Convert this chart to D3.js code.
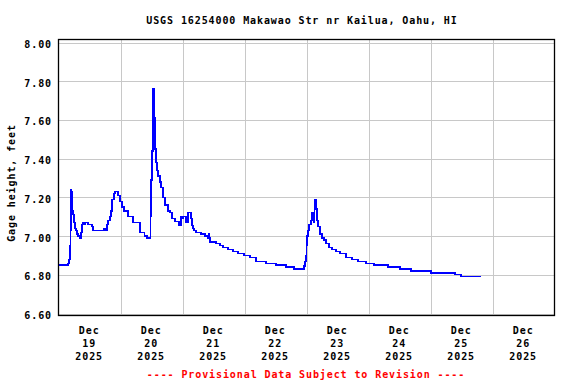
<!DOCTYPE html>
<html>
<head>
<meta charset="utf-8">
<script src="https://cdn.jsdelivr.net/npm/d3@7"></script>
<style>
  body { margin: 0; background: #fff; }
  text { font-family: "DejaVu Sans Mono", monospace; font-weight: bold; font-size: 10px; letter-spacing: 0.9px; }
</style>
</head>
<body>
<script>
// gage height, hours after 2025-12-19 00:00
var hours = [0, 3.2, 3.6, 4.0, 4.4, 4.6, 4.8, 5.0, 5.1, 5.3, 5.5, 5.9, 6.3, 6.7, 7.1, 7.5, 8.1, 8.6, 9.0, 9.4,
  9.8, 10.2, 11.0, 11.3, 12.1, 12.9, 13.3, 17.1, 17.5, 18.3, 18.7, 19.1, 19.9, 20.2, 20.6, 21.4, 21.8, 22.6, 23.0, 23.7,
  24.5, 25.3, 26.8, 28.8, 31.5, 33.1, 34.2, 35.3, 35.5, 35.7, 36.1, 36.5, 36.9, 37.3, 37.7, 38.1, 38.4, 39.2, 39.6, 40.4,
  41.1, 42.3, 43.1, 43.9, 45.0, 46.6, 47.3, 47.7, 48.1, 48.5, 49.3, 49.7, 50.0, 50.8, 51.2, 51.6, 52.0, 52.4, 53.2, 55.1,
  56.6, 57.8, 58.0, 58.2, 58.6, 60.9, 62.4, 63.6, 65.5, 67.5, 69.4, 71.7, 74.1, 76.4, 80.2, 84.1, 88.0, 91.1, 94.2, 94.9,
  95.3, 95.7, 95.9, 96.1, 96.5, 96.9, 97.7, 98.1, 98.4, 98.8, 99.0, 99.3, 99.6, 100.0, 100.4, 101.2, 101.9, 102.7, 103.5, 104.6,
  105.8, 107.3, 108.9, 111.2, 113.5, 115.9, 119.0, 122.1, 127.5, 132.1, 136.4, 144.1, 153.4, 155.7, 163.5];
var gage = [6.85, 6.85, 6.86, 6.88, 6.95, 7.03, 7.24, 7.23, 7.19, 7.13, 7.11, 7.07, 7.04, 7.03, 7.01, 7.00, 6.99, 7.02, 7.06, 7.07,
  7.06, 7.07, 7.07, 7.06, 7.06, 7.05, 7.03, 7.03, 7.04, 7.03, 7.06, 7.08, 7.10, 7.13, 7.19, 7.22, 7.23, 7.23, 7.21, 7.18,
  7.15, 7.13, 7.10, 7.07, 7.02, 7.00, 6.99, 6.99, 7.10, 7.29, 7.44, 7.76, 7.61, 7.45, 7.38, 7.34, 7.31, 7.28, 7.25, 7.20,
  7.16, 7.13, 7.12, 7.09, 7.075, 7.055, 7.10, 7.09, 7.10, 7.10, 7.07, 7.07, 7.12, 7.12, 7.09, 7.055, 7.04, 7.03, 7.02, 7.01,
  7.00, 6.99, 7.01, 6.99, 6.97, 6.96, 6.95, 6.94, 6.93, 6.92, 6.91, 6.90, 6.89, 6.87, 6.86, 6.85, 6.84, 6.83, 6.83, 6.845,
  6.87, 6.90, 6.95, 7.00, 7.03, 7.06, 7.08, 7.12, 7.12, 7.07, 7.19, 7.19, 7.14, 7.08, 7.05, 7.01, 6.99, 6.98, 6.96, 6.94,
  6.93, 6.92, 6.91, 6.89, 6.88, 6.87, 6.86, 6.85, 6.84, 6.83, 6.82, 6.81, 6.80, 6.79, 6.79];
var yTicks = [6.6, 6.8, 7.0, 7.2, 7.4, 7.6, 7.8, 8.0];
var dayLabels = ['19', '20', '21', '22', '23', '24', '25', '26'];

var start = new Date(2025, 11, 19);
var end = new Date(2025, 11, 27);
var width = 576, height = 384;

var svg = d3.select('body').append('svg')
  .attr('width', width)
  .attr('height', height);

var x = d3.scaleTime().domain([start, end]).range([58.7, 554.7]);
var y = d3.scaleLinear().domain([6.6, 8.0]).range([313.5, 42.5]);

var data = hours.map(function(h, i) {
  return { t: new Date(start.getTime() + h * 3600000), v: gage[i] };
});

// grid
svg.append('g')
  .selectAll('line.h')
  .data(yTicks)
  .enter().append('line')
    .attr('x1', 59).attr('x2', 554)
    .attr('y1', function(d) { return Math.round(y(d)) + 0.5; })
    .attr('y2', function(d) { return Math.round(y(d)) + 0.5; })
    .attr('stroke', '#c8c8c8');

svg.append('g')
  .selectAll('line.v')
  .data(d3.timeDay.range(d3.timeDay.offset(start, 1), end))
  .enter().append('line')
    .attr('x1', function(d) { return Math.round(x(d)) + 0.5; })
    .attr('x2', function(d) { return Math.round(x(d)) + 0.5; })
    .attr('y1', 39).attr('y2', 316)
    .attr('stroke', '#c8c8c8');

// data line
var line = d3.line()
  .x(function(d) { return x(d.t); })
  .y(function(d) { return y(d.v); })
  .curve(d3.curveStepAfter);

svg.append('path')
  .datum(data)
  .attr('d', line)
  .attr('fill', 'none')
  .attr('stroke', '#0000ff')
  .attr('stroke-width', 1.3)
  .attr('shape-rendering', 'crispEdges');

// frame
svg.append('rect')
  .attr('x', 58.5).attr('y', 39.5)
  .attr('width', 496).attr('height', 276)
  .attr('fill', 'none')
  .attr('stroke', '#000')
  .attr('stroke-width', 1.3);

// y axis
var yAxis = svg.append('g')
  .attr('transform', 'translate(52,0)')
  .call(d3.axisLeft(y).tickValues(yTicks).tickFormat(d3.format('.2f')).tickSize(0).tickPadding(0));
yAxis.select('.domain').remove();
yAxis.selectAll('text')
  .attr('dy', '0.5em')
  .attr('fill', '#000')
  .style('font-size', '10px');

// x axis, labels at noon of each day
var noons = d3.timeDay.range(start, end).map(function(d) { return d3.timeHour.offset(d, 12); });
var xAxis = svg.append('g')
  .attr('transform', 'translate(-1,0)')
  .call(d3.axisBottom(x).tickValues(noons).tickSize(0).tickFormat(''));
xAxis.select('.domain').remove();
xAxis.selectAll('.tick').each(function(d, i) {
  var t = d3.select(this).append('text')
    .attr('text-anchor', 'middle')
    .attr('fill', '#000');
  t.append('tspan').attr('x', 0).attr('y', 334).text('Dec');
  t.append('tspan').attr('x', 0).attr('y', 347).text(dayLabels[i]);
  t.append('tspan').attr('x', 0).attr('y', 360).text('2025');
});

// titles
svg.append('text')
  .attr('x', 302).attr('y', 24)
  .attr('text-anchor', 'middle')
  .text('USGS 16254000 Makawao Str nr Kailua, Oahu, HI');

svg.append('text')
  .attr('transform', 'translate(15,183) rotate(-90)')
  .attr('text-anchor', 'middle')
  .text('Gage height, feet');

svg.append('text')
  .attr('x', 306).attr('y', 378)
  .attr('text-anchor', 'middle')
  .attr('fill', '#ff0000')
  .text('---- Provisional Data Subject to Revision ----');
</script>
</body>
</html>
